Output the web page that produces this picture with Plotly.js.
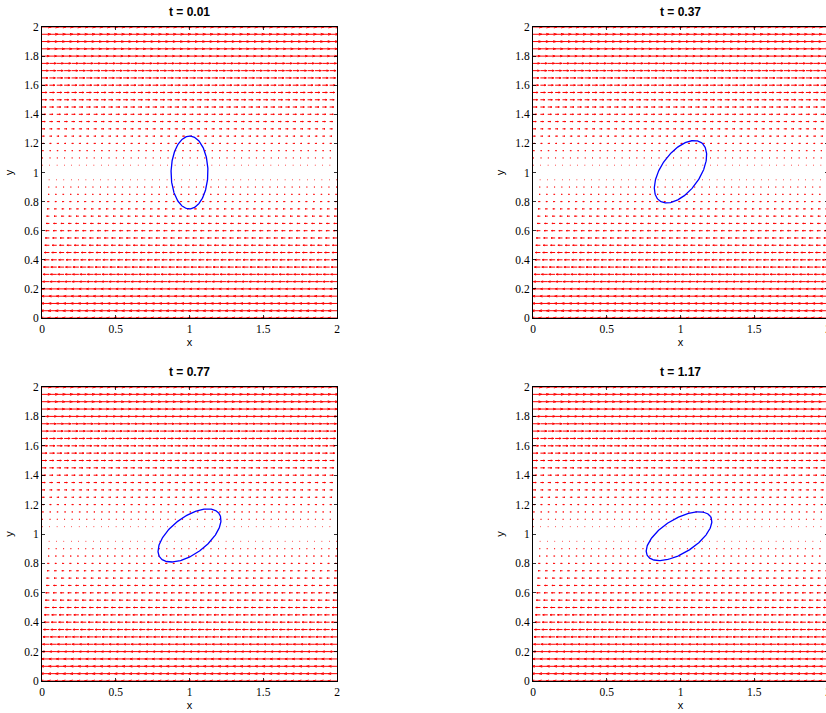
<!DOCTYPE html>
<html><head><meta charset="utf-8">
<script src="https://cdn.plot.ly/plotly-3.0.1.min.js"></script>
<style>html,body{margin:0;padding:0;overflow:hidden;background:#fff}</style>
</head><body><div id="chart"></div>
<script>
// Grid of the quiver field (x and y sample positions)
const gridX = [0,0.05,0.1,0.15,0.2,0.25,0.3,0.35,0.4,0.45,0.5,0.55,0.6,0.65,0.7,0.75,0.8,0.85,0.9,0.95,1,1.05,1.1,1.15,1.2,1.25,1.3,1.35,1.4,1.45,1.5,1.55,1.6,1.65,1.7,1.75,1.8,1.85,1.9,1.95,2];
const gridY = [0,0.05,0.1,0.15,0.2,0.25,0.3,0.35,0.4,0.45,0.5,0.55,0.6,0.65,0.7,0.75,0.8,0.85,0.9,0.95,1,1.05,1.1,1.15,1.2,1.25,1.3,1.35,1.4,1.45,1.5,1.55,1.6,1.65,1.7,1.75,1.8,1.85,1.9,1.95,2];
// Horizontal velocity on each row (shear flow), same for every panel
const uRow = [-1,-0.95,-0.9,-0.85,-0.8,-0.75,-0.7,-0.65,-0.6,-0.55,-0.5,-0.45,-0.4,-0.35,-0.3,-0.25,-0.2,-0.15,-0.1,-0.05,0,0.05,0.1,0.15,0.2,0.25,0.3,0.35,0.4,0.45,0.5,0.55,0.6,0.65,0.7,0.75,0.8,0.85,0.9,0.95,1];
// Panels
const panelTitles = ['t = 0.01','t = 0.37','t = 0.77','t = 1.17'];
// Drop (ellipse)
const ellipseCX = [1.0, 1.0, 1.0, 0.99];
const ellipseCY = [1.0, 1.005, 0.99, 0.985];
const ellipseA = [0.25, 0.245, 0.25, 0.252];
const ellipseB = [0.125, 0.132, 0.125, 0.116];
const ellipseAngleDeg = [89.5, 55, 37, 32];
// Ticks
const xTicks = [0,0.5,1,1.5,2];
const xTickText = ['0','0.5','1','1.5','2'];
const yTicks = [0,0.2,0.4,0.6,0.8,1,1.2,1.4,1.6,1.8,2];
const yTickText = ['0','0.2','0.4','0.6','0.8','1','1.2','1.4','1.6','1.8','2'];

// ---- drawing ----
const W = 830, H = 713;
const QSCALE = 0.0621, HEAD_A = 0.33, HEAD_B = 0.33;
function quiverTrace(xa, ya) {
  const xs = [], ys = [];
  for (let j = 0; j < gridY.length; j++) {
    for (let i = 0; i < gridX.length; i++) {
      const L = uRow[j] * QSCALE;
      if (L === 0) continue;
      const x0 = gridX[i], y0 = gridY[j], x1 = x0 + L;
      xs.push(x0, x1, null, x1 - HEAD_A * L, x1, x1 - HEAD_A * L, null);
      ys.push(y0, y0, null, y0 + HEAD_A * HEAD_B * L, y0, y0 - HEAD_A * HEAD_B * L, null);
    }
  }
  return {type:'scatter', mode:'lines', x:xs, y:ys, xaxis:xa, yaxis:ya,
    line:{color:'rgb(255,0,0)', width:1}, hoverinfo:'skip', showlegend:false};
}
function ellipseTrace(k, xa, ya) {
  const xs = [], ys = [];
  const phi = ellipseAngleDeg[k] * Math.PI / 180;
  for (let s = 0; s <= 240; s++) {
    const th = 2 * Math.PI * s / 240;
    const ex = ellipseA[k] * Math.cos(th), ey = ellipseB[k] * Math.sin(th);
    xs.push(ellipseCX[k] + ex * Math.cos(phi) - ey * Math.sin(phi));
    ys.push(ellipseCY[k] + ex * Math.sin(phi) + ey * Math.cos(phi));
  }
  return {type:'scatter', mode:'lines', x:xs, y:ys, xaxis:xa, yaxis:ya,
    line:{color:'rgb(0,0,255)', width:1.3}, hoverinfo:'skip', showlegend:false};
}
const xDom = [[42/W, 337/W], [533/W, 828/W], [42/W, 337/W], [533/W, 828/W]];
const yDom = [[1-318/H, 1-27/H], [1-318/H, 1-27/H], [1-681/H, 1-387/H], [1-681/H, 1-387/H]];
const traces = [];
const layout = {width:W, height:H, margin:{l:0,r:0,t:0,b:0}, paper_bgcolor:'#fff', plot_bgcolor:'#fff',
  showlegend:false, annotations:[]};
const tickFont = {family:'Liberation Serif, Times New Roman, serif', size:11.5, color:'#000'};
const labFont = {family:'Liberation Sans, Arial, sans-serif', size:11, color:'#000'};
for (let k = 0; k < 4; k++) {
  const sfx = k === 0 ? '' : String(k + 1);
  const xa = 'x' + sfx, ya = 'y' + sfx;
  traces.push(quiverTrace(xa, ya));
  traces.push(ellipseTrace(k, xa, ya));
  const common = {showgrid:false, zeroline:false, showline:true, linecolor:'#000', linewidth:1,
    mirror:'ticks', ticks:'inside', ticklen:3, tickwidth:0.8, tickcolor:'#000', tickfont:tickFont,
    ticklabeloverflow:'allow', automargin:false, fixedrange:true};
  layout['xaxis' + sfx] = Object.assign({}, common, {domain:xDom[k], range:[0,2], anchor:ya,
    tickmode:'array', tickvals:xTicks, ticktext:xTickText, title:{text:'x', font:labFont, standoff:4}});
  layout['yaxis' + sfx] = Object.assign({}, common, {domain:yDom[k], range:[0,2], anchor:xa,
    tickmode:'array', tickvals:yTicks, ticktext:yTickText, title:{text:'y', font:labFont, standoff:8}});
  layout.annotations.push({text:'<b>' + panelTitles[k] + '</b>', xref:'paper', yref:'paper',
    x:(xDom[k][0] + xDom[k][1]) / 2, y:yDom[k][1], xanchor:'center', yanchor:'bottom', yshift:6,
    showarrow:false, font:{family:'Liberation Sans, Arial, sans-serif', size:12, color:'#000'}});
}
Plotly.newPlot('chart', traces, layout, {staticPlot:true, displayModeBar:false});
</script></body></html>
